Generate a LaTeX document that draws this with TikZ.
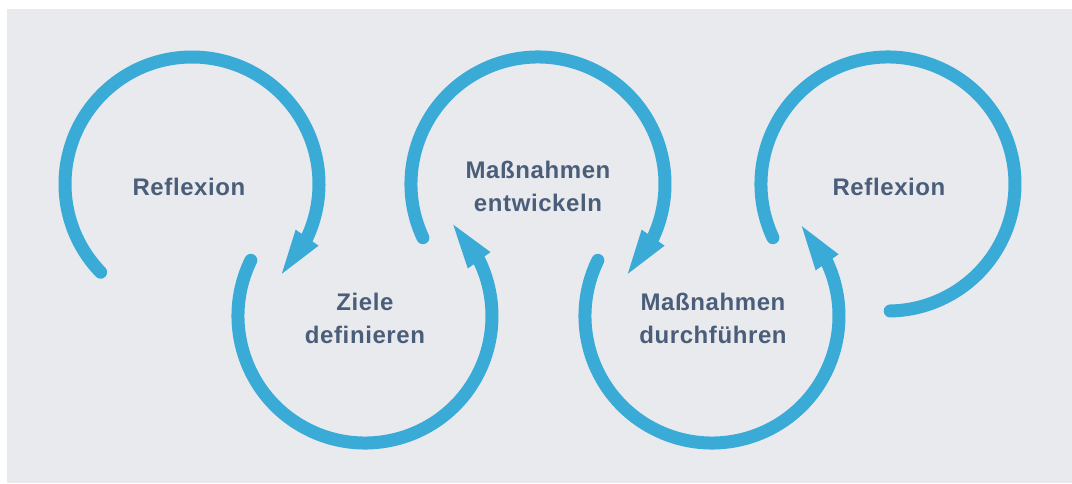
\documentclass[tikz,border=0pt]{standalone}
\usepackage{fontspec}
\setmainfont{Liberation Sans}[LetterSpace=2.5]
\usetikzlibrary{calc}
\definecolor{bg}{HTML}{E9EAEE}
\definecolor{ring}{HTML}{3AABD6}
\definecolor{txt}{HTML}{4A5E7A}
\tikzset{
  ringline/.style={draw=ring, line width=13pt, line cap=round},
  lbl/.style={text=txt, font=\bfseries\fontsize{24}{33}\selectfont, align=center, inner sep=0pt},
}
\newcommand{\headat}[3]{% center, tip angle, base angle
  \coordinate (tt) at ($(#1)+(#2:127pt)$);
  \coordinate (bb) at ($(#1)+(#3:127pt)$);
  \fill[ring] (tt) -- ($(bb)!14pt!90:(tt)$) -- ($(bb)!14pt!-90:(tt)$) -- cycle;
}
\begin{document}
\begin{tikzpicture}[x=1pt,y=1pt]
\useasboundingbox (0,0) rectangle (1072,483);
\fill[bg] (7,0) rectangle (1072,474);
\coordinate (c1) at (192,299);
\coordinate (c2) at (365,167);
\coordinate (c3) at (538,299);
\coordinate (c4) at (712,167);
\coordinate (c5) at (888,299);
% circle 1
\draw[ringline] ($(c1)+(224:127pt)$) arc[start angle=224, end angle=-27, radius=127pt];
\headat{c1}{-45}{-25}
% circle 2
\draw[ringline] ($(c2)+(154:127pt)$) arc[start angle=154, end angle=388, radius=127pt];
\headat{c2}{46}{26}
% circle 3
\draw[ringline] ($(c3)+(205:127pt)$) arc[start angle=205, end angle=-27, radius=127pt];
\headat{c3}{-45}{-25}
% circle 4
\draw[ringline] ($(c4)+(154:127pt)$) arc[start angle=154, end angle=387, radius=127pt];
\headat{c4}{45}{25}
% circle 5
\draw[ringline] ($(c5)+(205:127pt)$) arc[start angle=205, end angle=-89, radius=127pt];
% labels
\node[lbl] (l1) at (189,296) {Reflexion};
\node[lbl] (l2) at (365,165) {Ziele\\definieren};
\node[lbl] (l3) at (538,297) {Maßnahmen\\entwickeln};
\node[lbl] (l4) at (713,165) {Maßnahmen\\durchführen};
\node[lbl] (l5) at (889,296) {Reflexion};
\end{tikzpicture}
\end{document}
